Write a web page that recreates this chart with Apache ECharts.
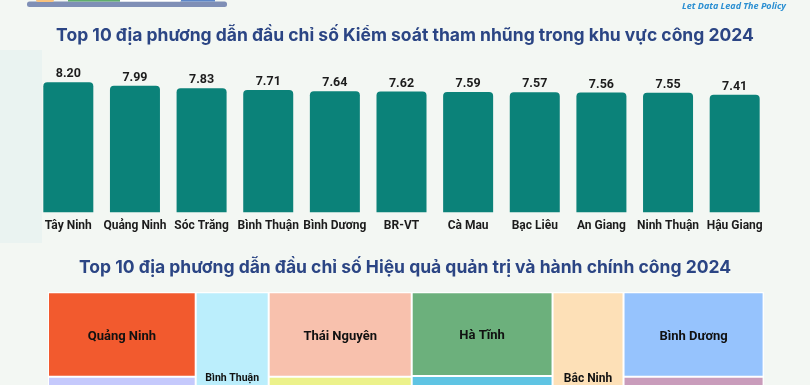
<!DOCTYPE html>
<html><head><meta charset="utf-8">
<script src="https://cdn.jsdelivr.net/npm/echarts@6/dist/echarts.min.js"></script>
<style>html,body{margin:0;padding:0;background:#f3f7f3}#c{width:810px;height:385px}</style>
</head><body><div id="c"></div>
<script>
// ---- Bar chart data ----
const barTitle = 'Top 10 địa phương dẫn đầu chỉ số Kiểm soát tham nhũng trong khu vực công 2024';
const barCategories = ['Tây Ninh','Quảng Ninh','Sóc Trăng','Bình Thuận','Bình Dương','BR-VT','Cà Mau','Bạc Liêu','An Giang','Ninh Thuận','Hậu Giang'];
const barValues = [8.20, 7.99, 7.83, 7.71, 7.64, 7.62, 7.59, 7.57, 7.56, 7.55, 7.41];

// ---- Treemap data ----
const treeTitle = 'Top 10 địa phương dẫn đầu chỉ số Hiệu quả quản trị và hành chính công 2024';
const treeNames  = ['Quảng Ninh','Hải Phòng','Bình Thuận','Thái Nguyên','Đồng Tháp','Hà Tĩnh','Quảng Trị','Bắc Ninh','Bình Dương','Hà Nam'];
const treeValues = [7.55, 7.93, 7.65, 7.31, 7.68, 7.14, 7.62, 7.44, 7.16, 7.52];
const treeGroupSizes = [2, 1, 2, 2, 1, 2];
const treeColors = ['#f25a2e','#c5c9fc','#bbeefc','#f8c1ad','#ecf28b','#6cb07c','#5fc4e3','#fde0b7','#96c3fd','#c99cbb'];
const treeLabelSizes = [13,13,10.5,13,13,13,13,12,13,13];

const chart = echarts.init(document.getElementById('c'), null, {renderer:'canvas'});

// build treemap nested data
const treeData = [];
let k = 0;
treeGroupSizes.forEach((n, gi) => {
  const children = [];
  for (let j = 0; j < n; j++, k++) {
    children.push({
      name: treeNames[k], value: treeValues[k],
      itemStyle: { color: treeColors[k], borderColor: 'rgba(255,255,255,0.5)', borderWidth: 1, gapWidth: 0 },
      label: { fontSize: treeLabelSizes[k], offset: [0, n > 1 ? 2 : 0] }
    });
  }
  treeData.push({ name: 'g' + gi, children, itemStyle: { borderWidth: 0, gapWidth: 0, color: 'transparent' } });
});

const titleFont = 'Inter, Roboto, sans-serif';
const font = 'Roboto, Inter, sans-serif';

chart.setOption({
  backgroundColor: '#f3f7f3',
  animation: false,
  title: [
    { text: barTitle, left: 'center', top: 22, textStyle: { fontFamily: titleFont, fontSize: 17.5, fontWeight: 'bold', color: '#2b4584' } },
    { text: treeTitle, left: 'center', top: 254, textStyle: { fontFamily: titleFont, fontSize: 17.5, fontWeight: 'bold', color: '#2b4584' } }
  ],
  graphic: [
    { type: 'rect', shape: { x: 0, y: 50, width: 42, height: 193 }, style: { fill: '#eaf3f1' }, z: -10 },
    { type: 'rect', shape: { x: 27, y: 1.5, width: 200, height: 5.5, r: 2.5 }, style: { fill: '#7f8fb6' } },
    { type: 'rect', shape: { x: 36, y: -3, width: 18, height: 5, r: 2 }, style: { fill: '#f8c27e' } },
    { type: 'rect', shape: { x: 68, y: -3, width: 52, height: 4.5 }, style: { fill: '#5fae6d' } },
    { type: 'rect', shape: { x: 120, y: -3, width: 60, height: 4.5 }, style: { fill: '#ffffff' } },
    { type: 'rect', shape: { x: 181, y: -3, width: 34, height: 4.5 }, style: { fill: '#5c86c8' } },
    { type: 'text', x: 786, y: 6, style: { text: 'Let Data Lead The Policy', fill: '#2a8fd2', font: 'italic bold 9px "Open Sans", sans-serif', align: 'right', verticalAlign: 'middle' } }
  ],
  grid: { left: 35, right: 42, top: 53.8, bottom: 172.7 },
  xAxis: {
    type: 'category', data: barCategories,
    axisLine: { show: false }, axisTick: { show: false },
    axisLabel: { margin: 7.5, interval: 0, fontFamily: font, fontSize: 12, fontWeight: 'bold', color: '#1c1c1c' }
  },
  yAxis: { type: 'value', min: 0, max: 10, show: false, splitLine: { show: false } },
  series: [
    {
      type: 'bar', data: barValues, barWidth: 50,
      itemStyle: { color: '#0b8279', borderRadius: [4,4,0,0] },
      label: { show: true, position: 'top', distance: 1.5, formatter: p => p.value.toFixed(2), fontFamily: font, fontSize: 12.5, fontWeight: 'bold', color: '#1c1c1c' }
    },
    {
      type: 'treemap', left: 48, top: 292.3, width: 715.6, height: 173,
      roam: false, nodeClick: false, sort: false, squareRatio: 1,
      breadcrumb: { show: false },
      itemStyle: { borderWidth: 0, gapWidth: 0 },
      upperLabel: { show: false },
      label: { show: true, position: 'inside', color: '#111', fontFamily: font, fontWeight: 'bold', fontSize: 13 },
      data: treeData
    }
  ]
});
</script></body></html>
